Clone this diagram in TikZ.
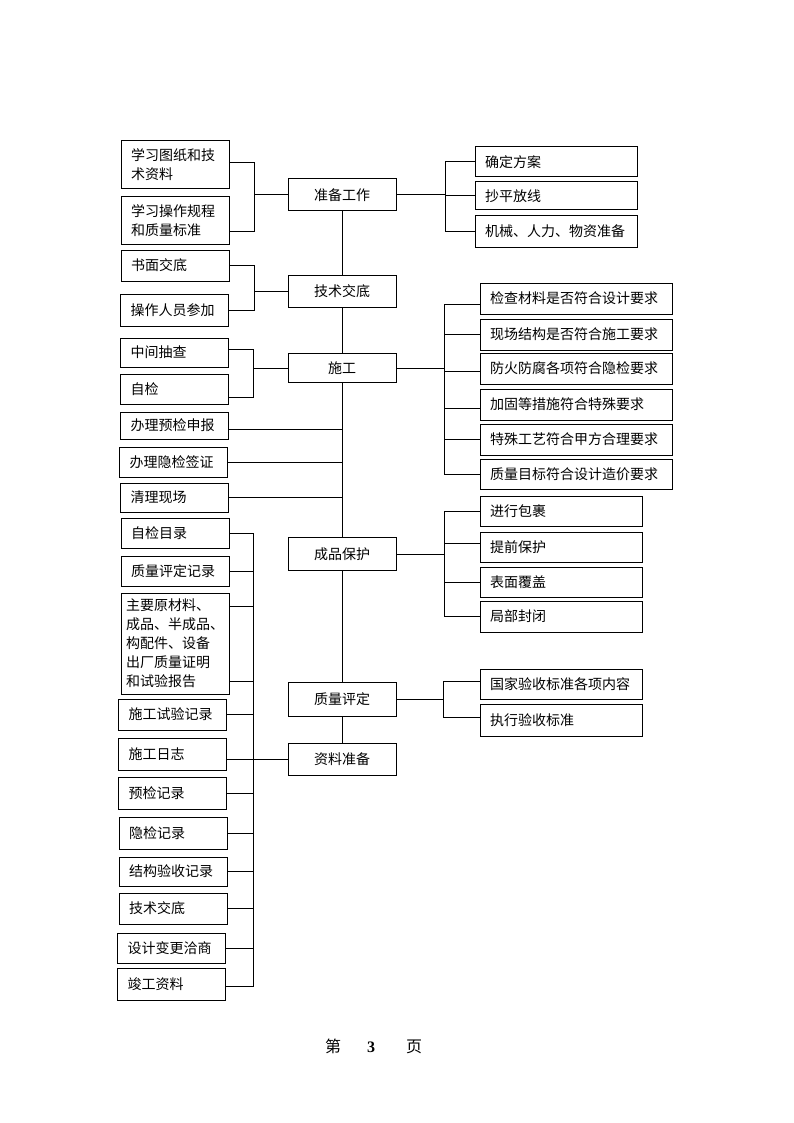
\documentclass[tikz,border=0pt]{standalone}
\usepackage{fontspec}
\setmainfont{Liberation Serif}
\newfontfamily\cjk{Noto Sans CJK SC}
\tikzset{
  lbox/.style = {draw, line width=1pt, text width=88pt, inner xsep=10pt,
                 align=left, minimum height=30pt,
                 font=\cjk\fontsize{14}{19}\selectfont},
  cbox/.style = {lbox, align=center, minimum height=32pt},
  rbox/.style = {lbox, text width=142pt},
  wbox/.style = {lbox, text width=172pt, minimum height=31pt},
  conn/.style = {line width=1pt}
}

\begin{document}
\begin{tikzpicture}[x=1pt,y=-1pt]
\useasboundingbox (0,0) rectangle (794,1123);

% centre column
\node[cbox] (prep) at (342,195) {准备工作};
\node[cbox] (tech) at (342,291) {技术交底};
\node[cbox, minimum height=29pt] (cons) at (342,368) {施工};
\node[cbox, minimum height=33pt] (prot) at (342,554) {成品保护};
\node[cbox, minimum height=34pt] (qual) at (342,699) {质量评定};
\node[cbox] (docs) at (342,759) {资料准备};
\draw[conn] (prep.south) -- (tech.north);
\draw[conn] (tech.south) -- (cons.north);
\draw[conn] (cons.south) -- (prot.north);
\draw[conn] (prot.south) -- (qual.north);
\draw[conn] (qual.south) -- (docs.north);

% left column
\node[lbox, minimum height=48pt] (s1) at (175,165) {学习图纸和技\\术资料};
\node[lbox, minimum height=47pt] (s2) at (175,220.5) {学习操作规程\\和质量标准};
\node[lbox, minimum height=31pt] (t1) at (175,265.5) {书面交底};
\node[lbox, minimum height=32pt] (t2) at (174.5,310) {操作人员参加};
\node[lbox, minimum height=29pt] (c1) at (174.5,352.5) {中间抽查};
\node[lbox] (c2) at (174.5,389) {自检};
\node[lbox, minimum height=27pt] (c3) at (174.5,425.5) {办理预检申报};
\node[lbox] (c4) at (173.5,462) {办理隐检签证};
\node[lbox, minimum height=29pt] (c5) at (174.5,497.5) {清理现场};
\node[lbox] (d1) at (175,533) {自检目录};
\node[lbox] (d2) at (175,571) {质量评定记录};
\node[lbox, text width=98pt, inner xsep=5pt, minimum height=101pt] (d3) at (175,643.5)
  {主要原材料、\\成品、半成品、\\构配件、设备\\出厂质量证明\\和试验报告};
\node[lbox, minimum height=31pt] (d4) at (172.5,714.5) {施工试验记录};
\node[lbox, minimum height=32pt] (d5) at (172.5,754) {施工日志};
\node[lbox, minimum height=32pt] (d6) at (172.5,793) {预检记录};
\node[lbox, minimum height=32pt] (d7) at (173,833) {隐检记录};
\node[lbox, minimum height=29pt] (d8) at (173,871.5) {结构验收记录};
\node[lbox, minimum height=31pt] (d9) at (173,908.5) {技术交底};
\node[lbox] (d10) at (171.5,948) {设计变更洽商};
\node[lbox, minimum height=32pt] (d11) at (171.5,984) {竣工资料};

\coordinate (sb) at (254,0);
\coordinate (db) at (253,0);
\draw[conn] ([yshift=2pt]s1.east) -- ([yshift=2pt]s1.east -| sb)
  -- ([yshift=-11.5pt]s2.east -| sb) -- ([yshift=-11.5pt]s2.east);
\draw[conn] (prep.west) -- (prep.west -| sb);
\draw[conn] (t1.east) -- (t1.east -| sb) -- (t2.east -| sb) -- (t2.east);
\draw[conn] (tech.west) -- (tech.west -| sb);
\draw[conn] ([yshift=3pt]c1.east) -- ([yshift=3pt]c1.east -| db)
  -- ([yshift=-8pt]c2.east -| db) -- ([yshift=-8pt]c2.east);
\draw[conn] (cons.west) -- (cons.west -| db);
\draw[conn] ([yshift=-3.5pt]c3.east) -- ([yshift=-3.5pt]c3.east -| prep.south);
\foreach \n in {c4,c5}
  \draw[conn] (\n.east) -- (\n.east -| prep.south);
\draw[conn] (d1.east) -- (d1.east -| db) -- ([yshift=-2pt]d11.east -| db)
  -- ([yshift=-2pt]d11.east);
\foreach \n in {d2,d4,d6,d7,d8,d9,d10}
  \draw[conn] (\n.east) -- (\n.east -| db);
\draw[conn] ([yshift=37.5pt]d3.east) -- ([yshift=37.5pt]d3.east -| db);
\draw[conn] ([yshift=-37.5pt]d3.east) -- ([yshift=-37.5pt]d3.east -| db);
\draw[conn] (d5.east |- docs.west) -- (docs.west);

% right column
\node[rbox] (p1) at (556,162) {确定方案};
\node[rbox, minimum height=28pt] (p2) at (556,196) {抄平放线};
\node[rbox, minimum height=31pt] (p3) at (556,231.5) {机械、人力、物资准备};
\node[wbox] (k1) at (576,298.5) {检查材料是否符合设计要求};
\node[wbox] (k2) at (576,334.5) {现场结构是否符合施工要求};
\node[wbox] (k3) at (576,368.5) {防火防腐各项符合隐检要求};
\node[wbox] (k4) at (576,404.5) {加固等措施符合特殊要求};
\node[wbox] (k5) at (576,439.5) {特殊工艺符合甲方合理要求};
\node[wbox, minimum height=30pt] (k6) at (576,474) {质量目标符合设计造价要求};
\node[rbox] (b1) at (561,511) {进行包裹};
\node[rbox] (b2) at (561,547) {提前保护};
\node[rbox] (b3) at (561,582) {表面覆盖};
\node[rbox, minimum height=31pt] (b4) at (561,616.5) {局部封闭};
\node[rbox] (q1) at (561,684) {国家验收标准各项内容};
\node[rbox, minimum height=32pt] (q2) at (561,720) {执行验收标准};

\coordinate (pb) at (445,0);
\coordinate (kb) at (444,0);
\coordinate (qb) at (443,0);
\draw[conn] (prep.east) -- (prep.east -| pb);
\draw[conn] (p1.west) -- (p1.west -| pb) -- (p3.west -| pb) -- (p3.west);
\draw[conn] (p2.west) -- (p2.west -| pb);
\draw[conn] (cons.east) -- (cons.east -| kb);
\draw[conn] ([yshift=-5.5pt]k1.west) -- ([yshift=-5.5pt]k1.west -| kb)
  -- (k6.west -| kb) -- (k6.west);
\foreach \n/\s in {k2/0,k3/-2.5,k4/-3.5,k5/0}
  \draw[conn] ([yshift=\s pt]\n.west) -- ([yshift=\s pt]\n.west -| kb);
\draw[conn] (prot.east) -- (prot.east -| kb);
\draw[conn] (b1.west) -- (b1.west -| kb) -- (b4.west -| kb) -- (b4.west);
\draw[conn] ([yshift=4pt]b2.west) -- ([yshift=4pt]b2.west -| kb);
\draw[conn] (b3.west) -- (b3.west -| kb);
\draw[conn] (qual.east) -- (qual.east -| qb);
\draw[conn] ([yshift=3pt]q1.west) -- ([yshift=3pt]q1.west -| qb)
  -- ([yshift=3pt]q2.west -| qb) -- ([yshift=3pt]q2.west);

% page number
\node[font=\fontsize{16}{16}\selectfont] (pg) at (373.5,1046)
  {{\cjk 第}\hspace{26pt}\textbf{3}\hspace{31pt}{\cjk 页}};
\end{tikzpicture}
\end{document}
